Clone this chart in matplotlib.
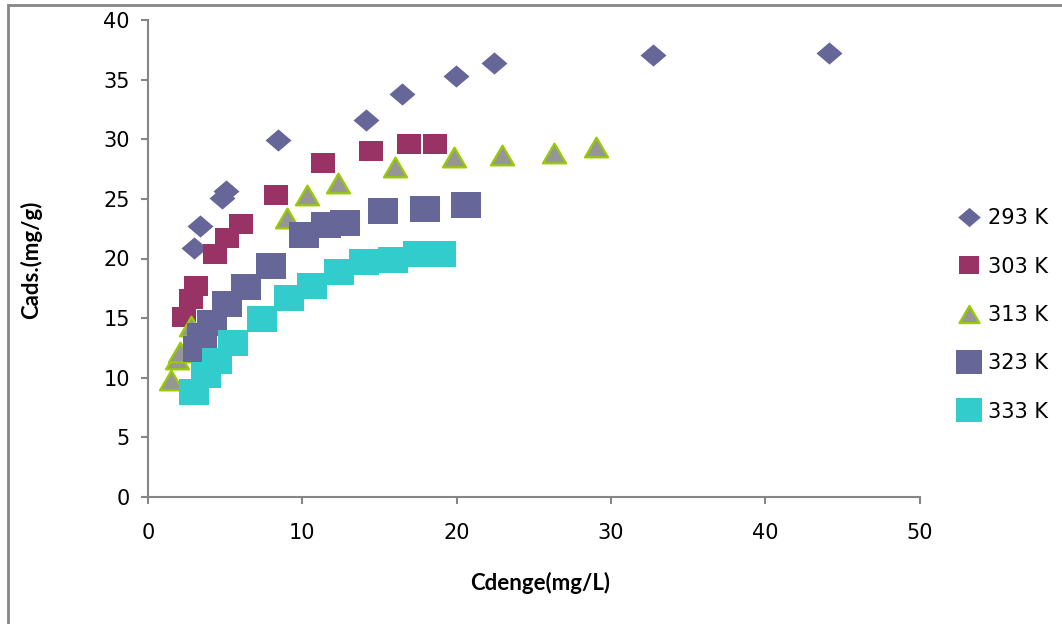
import matplotlib.pyplot as plt
from matplotlib.path import Path
from matplotlib.patches import Rectangle

# adsorption isotherm data, Cdenge (mg/L) vs Cads (mg/g)
x_293 = [3.0, 3.39, 4.77, 5.06, 8.45, 14.15, 16.46, 19.98, 22.44, 32.73, 44.11]
y_293 = [20.9, 22.75, 25.1, 25.7, 29.9, 31.6, 33.8, 35.33, 36.37, 37.04, 37.2]

x_303 = [2.31, 2.79, 3.09, 4.32, 5.1, 6.01, 8.31, 11.36, 14.43, 16.91, 18.6]
y_303 = [15.12, 16.6, 17.69, 20.38, 21.74, 22.92, 25.3, 28.03, 29.04, 29.57, 29.57]

x_313 = [1.51, 1.86, 2.07, 2.77, 8.99, 10.33, 12.31, 15.99, 19.83, 22.92, 26.29, 29.05]
y_313 = [9.84, 11.6, 12.2, 14.3, 23.42, 25.3, 26.33, 27.67, 28.54, 28.7, 28.85, 29.38]

x_323 = [3.27, 3.53, 4.18, 5.09, 6.32, 8.0, 10.13, 11.56, 12.79, 15.25, 17.97, 20.63]
y_323 = [12.39, 13.53, 14.56, 16.16, 17.65, 19.33, 21.94, 22.78, 22.95, 23.96, 24.12, 24.46]

x_333 = [2.95, 3.73, 4.5, 5.54, 7.42, 9.11, 10.66, 12.35, 14.03, 15.85, 17.53, 18.96]
y_333 = [8.78, 10.2, 11.38, 12.89, 14.9, 16.66, 17.66, 18.84, 19.68, 19.85, 20.35, 20.35]

labels = ["293 K", "303 K", "313 K", "323 K", "333 K"]

# slightly wide marker shapes
sx = 1.17
diamond = Path([(0, 1), (sx, 0), (0, -1), (-sx, 0), (0, 1)], closed=True)
rect = Path([(-sx, -1), (sx, -1), (sx, 1), (-sx, 1), (-sx, -1)], closed=True)
tri = Path([(0, 1), (sx, -1), (-sx, -1), (0, 1)], closed=True)

plt.rcParams['font.family'] = ['DejaVu Sans']

fig = plt.figure(figsize=(10.62, 6.24), dpi=100)
ax = fig.add_axes([148 / 1062, 1 - 497 / 624, (919.5 - 148) / 1062, (497 - 20) / 624])

# outer chart frame (open to the right and bottom)
fig.patches.append(Rectangle((8 / 1062, -0.5), 2.0, 1.5 - 5 / 624,
                             transform=fig.transFigure, fill=False,
                             edgecolor='#868686', linewidth=2.0))

ax.plot(x_293, y_293, ls='none', marker=diamond, ms=18.7, color='#666699',
        mec='#666699', mew=0, label=labels[0])
ax.plot(x_303, y_303, ls='none', marker=rect, ms=16.8, color='#993366',
        mec='#993366', mew=0, label=labels[1])
ax.plot(x_313, y_313, ls='none', marker=tri, ms=16.6, mfc='#969696',
        mec='#99CC00', mew=1.6, label=labels[2])
ax.plot(x_323, y_323, ls='none', marker=rect, ms=22.3, color='#666699',
        mec='#666699', mew=0, label=labels[3])
ax.plot(x_333, y_333, ls='none', marker=rect, ms=22.3, color='#33CCCC',
        mec='#33CCCC', mew=0, label=labels[4])

ax.set_xlim(0, 50)
ax.set_ylim(0, 40)
ax.set_xticks(range(0, 51, 10))
ax.set_yticks(range(0, 41, 5))

for side in ['top', 'right']:
    ax.spines[side].set_visible(False)
for side in ['left', 'bottom']:
    ax.spines[side].set_color('#868686')
    ax.spines[side].set_linewidth(1.5)
ax.tick_params(direction='out', length=5, width=1.5, color='#868686',
               labelsize=15)
ax.tick_params(axis='x', pad=14)
ax.tick_params(axis='y', pad=8)

ax.set_xlabel("Cdenge(mg/L)", family='Lato', fontweight='bold', fontsize=16)
ax.set_ylabel("Cads.(mg/g)", family='Lato', fontweight='bold', fontsize=16)
ax.xaxis.set_label_coords((540 - 148) / 771.5, (497 - 583) / 477)
ax.yaxis.set_label_coords((31 - 148) / 771.5, (497 - 260) / 477)
ax.xaxis.label.set_va('center')
ax.yaxis.label.set_va('center')

ax.legend(loc='center left', bbox_to_anchor=(946 / 1062, 1 - 315 / 624),
          bbox_transform=fig.transFigure, frameon=False, fontsize=15,
          markerscale=0.87, labelspacing=1.36, handlelength=1.2,
          handletextpad=0.3, borderpad=0)

fig.savefig("out.png", dpi=100)
